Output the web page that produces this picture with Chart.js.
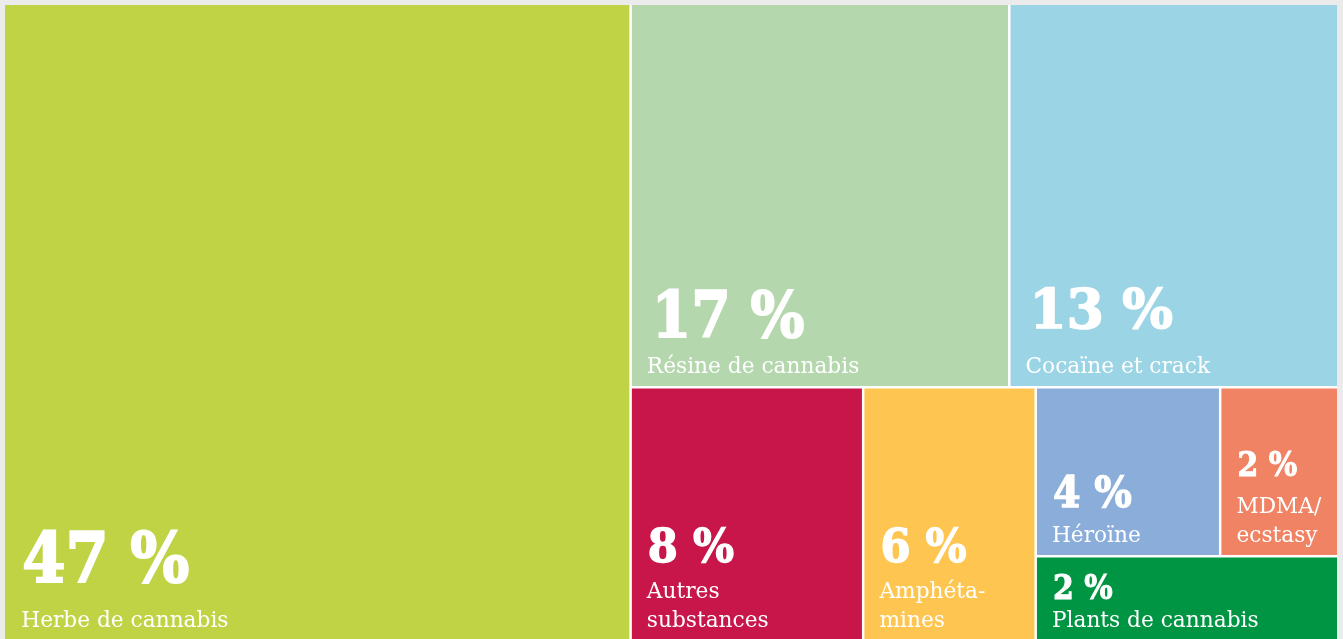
<!DOCTYPE html>
<html>
<head>
<meta charset="utf-8">
<script src="https://cdn.jsdelivr.net/npm/chart.js@4.4.1/dist/chart.umd.min.js"></script>
<style>
  html, body { margin: 0; padding: 0; background: #ebebeb; overflow: hidden; }
  #wrap { width: 1343px; height: 641px; position: relative; }
</style>
</head>
<body>
<div id="wrap"><canvas id="chart"></canvas></div>
<script>
/* DATA */
const substances = ["Herbe de cannabis", "Résine de cannabis", "Cocaïne et crack", "Autres\nsubstances",
  "Amphéta-\nmines", "Héroïne", "MDMA/\necstasy", "Plants de cannabis"];
const shares = [47, 17, 13, 8, 6, 4, 2, 2];                          // printed percentages
const cellSizes = [47.0, 17.1, 14.8, 6.97, 5.17, 3.68, 2.33, 3.02];  // area of each cell
// how the cells nest (slice and dice, direction alternates with depth)
const groups = [0, [[1, 2], [3, 4, [[5, 6], 7]]]];

/* STYLE */
const colors = ["#c0d345", "#b5d7ae", "#9bd4e4", "#c8154a", "#fec650", "#8badd9", "#f08363", "#009543"];
const pctSize = [69, 63, 55, 46, 46, 43, 34, 34];
const pctScale = [0.9, 0.9, 0.97, 0.94, 0.94, 0.92, 0.88, 0.88];
const pctGap = [45, 36, 45, 36, 36, 35, 37, 28];
const pctShift = [1, 5, 4, 1, 1, 1, 1, 1];
const GAP = 2.5;
const SERIF = "'DejaVu Serif', serif";

function weight(node) {
  return Array.isArray(node) ? node.reduce((s, n) => s + weight(n), 0) : cellSizes[node];
}

function layout(node, x0, y0, x1, y1, depth, cells, splits) {
  if (!Array.isArray(node)) { cells[node] = { x0, y0, x1, y1 }; return; }
  const total = weight(node);
  const horiz = depth % 2 === 0;
  let pos = horiz ? x0 : y0;
  node.forEach((child, i) => {
    const f = weight(child) / total;
    const next = pos + (horiz ? (x1 - x0) : (y1 - y0)) * f;
    if (horiz) layout(child, pos, y0, next, y1, depth + 1, cells, splits);
    else layout(child, x0, pos, x1, next, depth + 1, cells, splits);
    if (i < node.length - 1) {
      splits.push(horiz ? { x0: next, y0, x1: next, y1 } : { x0, y0: next, x1, y1: next });
    }
    pos = next;
  });
}

const treemapPlugin = {
  id: "treemapCells",
  afterDatasetsDraw(chart) {
    const { ctx, scales: { x, y } } = chart;
    const cells = [], splits = [];
    layout(groups, 0, 0, 1, 1, 0, cells, splits);

    cells.forEach((c, i) => {
      const left = x.getPixelForValue(c.x0), right = x.getPixelForValue(c.x1);
      const top = y.getPixelForValue(c.y0), bottom = y.getPixelForValue(c.y1);
      ctx.fillStyle = colors[i];
      ctx.fillRect(left, top, right - left, bottom - top);
    });

    // white separators between cells
    ctx.strokeStyle = "#ffffff";
    ctx.lineWidth = GAP;
    splits.forEach(s => {
      ctx.beginPath();
      ctx.moveTo(x.getPixelForValue(s.x0), y.getPixelForValue(s.y0));
      ctx.lineTo(x.getPixelForValue(s.x1), y.getPixelForValue(s.y1));
      ctx.stroke();
    });

    // texts, anchored bottom left
    ctx.fillStyle = "#ffffff";
    ctx.strokeStyle = "#ffffff";
    ctx.textBaseline = "alphabetic";
    ctx.textAlign = "left";
    cells.forEach((c, i) => {
      const left = x.getPixelForValue(c.x0) + GAP / 2 + 15;
      const bottom = y.getPixelForValue(c.y1) - GAP / 2 - 13;
      const lines = substances[i].split("\n");
      ctx.font = "21.7px " + SERIF;
      lines.forEach((line, k) => {
        ctx.fillText(line, left, bottom - (lines.length - 1 - k) * 29);
      });
      const firstBase = bottom - (lines.length - 1) * 29;
      ctx.font = "bold " + pctSize[i] + "px " + SERIF;
      ctx.save();
      ctx.translate(left + pctShift[i], firstBase - pctGap[i]);
      ctx.scale(pctScale[i], 1);
      ctx.lineWidth = pctSize[i] * 0.03;
      ctx.fillText(shares[i] + " %", 0, 0);
      ctx.strokeText(shares[i] + " %", 0, 0);
      ctx.restore();
    });
  }
};

const ctx = document.getElementById("chart");

new Chart(ctx, {
  type: "scatter",
  data: { datasets: [{ data: [] }] },
  options: {
    responsive: true,
    maintainAspectRatio: false,
    animation: false,
    layout: { padding: { left: 5, top: 5, right: 6, bottom: 0 } },
    plugins: { legend: { display: false }, tooltip: { enabled: false } },
    scales: {
      x: { type: "linear", min: 0, max: 1, display: false },
      y: { type: "linear", min: 0, max: 1, reverse: true, display: false }
    }
  },
  plugins: [treemapPlugin]
});
</script>
</body>
</html>
